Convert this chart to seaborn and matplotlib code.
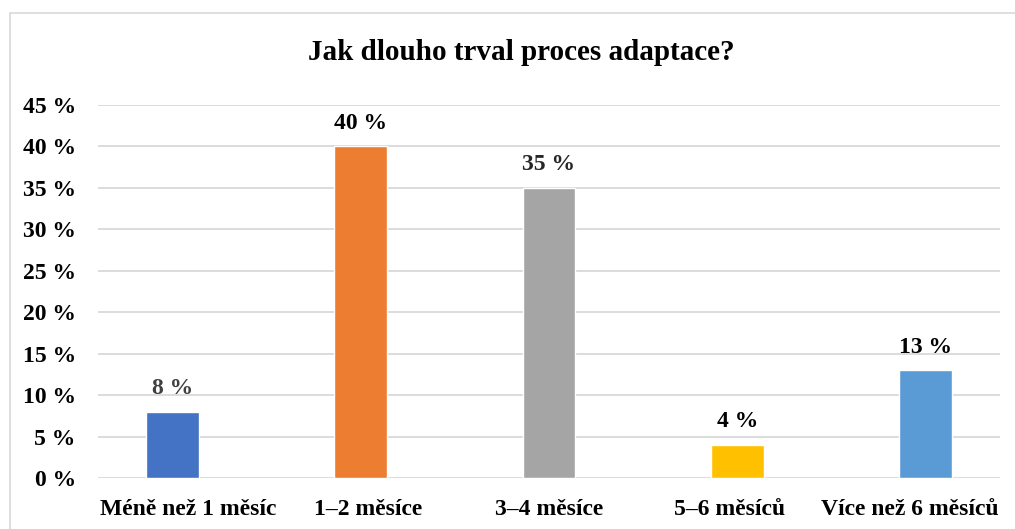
import matplotlib
matplotlib.use("Agg")
import matplotlib.pyplot as plt
import seaborn as sns
import pandas as pd
from matplotlib.patches import Rectangle

categories = ["Méně než 1 měsíc", "1–2 měsíce", "3–4 měsíce", "5–6 měsíců", "Více než 6 měsíců"]
values = [8, 40, 35, 4, 13]
colors = ["#4472C4", "#ED7D31", "#A5A5A5", "#FFC000", "#5B9BD5"]
label_colors = ["#404040", "#000000", "#262626", "#000000", "#000000"]
yticks = [0, 5, 10, 15, 20, 25, 30, 35, 40, 45]
title = "Jak dlouho trval proces adaptace?"

sns.set_theme(style="white")
plt.rcParams['font.family'] = ['Liberation Serif', 'DejaVu Serif']

W, H = 1015, 529
fig = plt.figure(figsize=(W / 100, H / 100), dpi=100)
ax = fig.add_axes([98 / W, 1 - 478 / H, (1000 - 98) / W, (478 - 105) / H])

df = pd.DataFrame({"cat": categories, "val": values})
sns.barplot(data=df, x="cat", y="val", hue="cat", palette=colors, legend=False,
            width=0.28, ax=ax, saturation=1)

x0, x1 = -0.394, 4.394
ax.set_xlim(x0, x1)
ax.set_ylim(0, 45)
ax.set_yticks(yticks)
ax.set_yticklabels([f"{t} %" for t in yticks], fontsize=17, fontweight="bold", color="black")
n = len(categories)
tick_pos = [x0 + (i + 0.5) * (x1 - x0) / n for i in range(n)]
ax.set_xticks(tick_pos)
ax.set_xticklabels(categories, fontsize=17, fontweight="bold", color="black")
ax.set_xlabel("")
ax.set_ylabel("")
ax.tick_params(axis="both", length=0)
ax.tick_params(axis="y", pad=16)
ax.tick_params(axis="x", pad=15)
ax.grid(axis="y", color="#d9d9d9", linewidth=1.3)
ax.grid(axis="x", visible=False)
ax.set_axisbelow(True)
for s in ax.spines.values():
    s.set_visible(False)

for i, (v, c) in enumerate(zip(values, label_colors)):
    ax.annotate(f"{v} %", (i, v), xytext=(0, 9), textcoords="offset points",
                ha="center", va="bottom", fontsize=17, fontweight="bold", color=c)

fig.text(521 / W, 1 - 52 / H, title, ha="center", va="center",
         fontsize=21, fontweight="bold", color="black")

fig.patches.append(Rectangle((10 / W, -0.05), 1.2, 1 - 13 / H + 0.05,
                             transform=fig.transFigure, fill=False,
                             edgecolor="#d9d9d9", linewidth=1.2))

fig.savefig("out.png", dpi=100, facecolor="white")
